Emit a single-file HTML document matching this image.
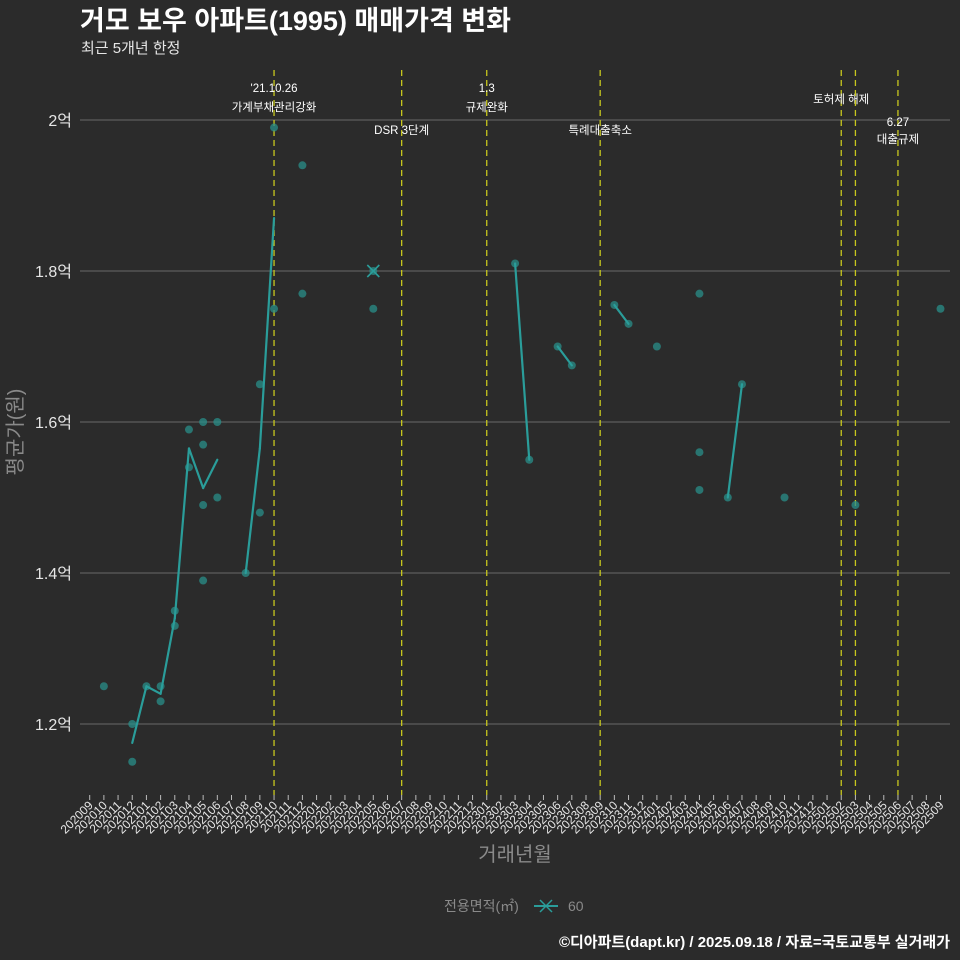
<!DOCTYPE html>
<html><head><meta charset="utf-8">
<style>
html,body{margin:0;padding:0;background:#2b2b2b;overflow:hidden;width:960px;height:960px;}
svg{display:block;}
svg text{font-family:"Liberation Sans","Noto Sans CJK KR",sans-serif;}
</style></head>
<body>
<svg id="chart" width="960" height="960" viewBox="0 0 960 960" xmlns="http://www.w3.org/2000/svg">
<rect x="0" y="0" width="960" height="960" fill="#2b2b2b"/>
<text x="80" y="30" fill="#ffffff" font-size="27" font-weight="bold">거모 보우 아파트(1995) 매매가격 변화</text>
<text x="81" y="53" fill="#e6e6e6" font-size="15">최근 5개년 한정</text>
<g id="grid"></g>
<g id="vlines"></g>
<g id="series"></g>
<g id="yaxis"></g>
<g id="xaxis"></g>
<text transform="translate(22,432) rotate(-90)" text-anchor="middle" fill="#8a8a8a" font-size="20">평균가(원)</text>
<text x="515" y="861" text-anchor="middle" fill="#8a8a8a" font-size="20">거래년월</text>
<g>
<text x="444" y="911" fill="#8a8a8a" font-size="14">전용면적(㎡)</text>
<g>
<line x1="534" y1="906" x2="558" y2="906" stroke="#2a9d9a" stroke-width="2"/>
<path d="M540 900 L552 912 M552 900 L540 912" stroke="#2a9d9a" stroke-width="1.5"/>
<text x="568" y="911" fill="#8a8a8a" font-size="14">60</text>
</g></g>
<text x="950" y="947" text-anchor="end" fill="#ffffff" font-size="15" font-weight="bold">©디아파트(dapt.kr) / 2025.09.18 / 자료=국토교통부 실거래가</text>
</svg>
<script>
const months = [];
for (let y=2020,m=9; !(y===2025&&m===10); ){ months.push(y+String(m).padStart(2,'0')); m++; if(m>12){m=1;y++;} }
const yTicks = [1.2,1.4,1.6,1.8,2.0];
const yTickLabels = ['1.2억','1.4억','1.6억','1.8억','2억'];
const pointMonths = ['202010','202012','202012','202101','202102','202102','202103','202103','202104','202104','202105','202105','202105','202105','202106','202106','202108','202109','202109','202110','202110','202112','202112','202205','202303','202304','202306','202307','202310','202311','202401','202404','202404','202404','202406','202407','202410','202503','202509'];
const pointValues = [1.25,1.2,1.15,1.25,1.25,1.23,1.35,1.33,1.59,1.54,1.6,1.57,1.49,1.39,1.6,1.5,1.4,1.65,1.48,1.99,1.75,1.94,1.77,1.75,1.81,1.55,1.7,1.675,1.755,1.73,1.70,1.77,1.56,1.51,1.5,1.65,1.5,1.49,1.75];
const meanMonths = ['202012','202101','202102','202103','202104','202105','202106','202108','202109','202110','202303','202304','202306','202307','202310','202311','202406','202407'];
const meanValues = [1.175,1.25,1.24,1.34,1.565,1.5125,1.55,1.4,1.565,1.87,1.81,1.55,1.7,1.675,1.755,1.73,1.5,1.65];
const crossMonths = ['202205'];
const crossValues = [1.8];
const eventMonths = ['202110','202207','202301','202309','202502','202503','202506'];
const eventLabels = [["'21.10.26","가계부채관리강화"],["","DSR 3단계"],["1.3","규제완화"],["","특례대출축소"],["토허제 해제"],[],["6.27","대출규제"]];
const eventLabelY = [[92,111],[0,134],[92,111],[0,134],[103],[],[126,143]];

const NS='http://www.w3.org/2000/svg';
const X = m => 89.7 + months.indexOf(m)*14.18;
const Y = v => 724 - (v-1.2)/0.2*151;
function mk(tag, attrs, parent){const e=document.createElementNS(NS,tag);for(const k in attrs)e.setAttribute(k,attrs[k]);parent.appendChild(e);return e;}
const grid=document.getElementById('grid'), yax=document.getElementById('yaxis'), xax=document.getElementById('xaxis');
yTicks.forEach((t,i)=>{
  const l=mk('line',{x1:80,x2:950,y1:Y(t),y2:Y(t),stroke:'#5c5c5c','stroke-width':1.2},grid);
  
  
  const tx=mk('text',{x:72,y:Y(t)+6,'text-anchor':'end',fill:'#e6e6e6','font-size':16},yax);
  tx.textContent=yTickLabels[i];
  
  
});
months.forEach(m=>{
  const x=X(m);
  mk('line',{x1:x,x2:x,y1:795,y2:800,stroke:'#bbbbbb','stroke-width':1},xax);
  const t=mk('text',{transform:`translate(${x+4},${806}) rotate(-45)`,'text-anchor':'end',fill:'#e6e6e6','font-size':12},xax);
  t.textContent=m;
  
  
});
const vl=document.getElementById('vlines');
eventMonths.forEach((m,i)=>{
  const x=X(m);
  const l=mk('line',{x1:x,x2:x,y1:70,y2:795,stroke:'#c8c81e','stroke-width':1.3,'stroke-dasharray':'6,4'},vl);
  
  
  eventLabels[i].forEach((s,j)=>{ if(!s) return;
    const t=mk('text',{x:x,y:eventLabelY[i][j],'text-anchor':'middle',fill:'#ffffff','font-size':11.5},vl);
    t.textContent=s;
    
    
  });
});
const sg=document.getElementById('series');
pointMonths.forEach((m,i)=>{
  const c=mk('circle',{cx:X(m),cy:Y(pointValues[i]),r:4,fill:'#2a8f8a','fill-opacity':0.75},sg);
  
  
});
for(let i=0;i<meanMonths.length-1;i++){
  const a=months.indexOf(meanMonths[i]), b=months.indexOf(meanMonths[i+1]);
  if(b-a!==1) continue;
  const l=mk('line',{x1:X(meanMonths[i]),y1:Y(meanValues[i]),x2:X(meanMonths[i+1]),y2:Y(meanValues[i+1]),stroke:'#2a9d9a','stroke-width':2.2,'stroke-linecap':'round'},sg);
  
  
}
crossMonths.forEach((m,i)=>{
  const x=X(m),y=Y(crossValues[i]);
  mk('circle',{cx:x,cy:y,r:4,fill:'#2a8f8a','fill-opacity':0.75},sg);
  const p=mk('path',{d:`M${x-6} ${y-6}L${x+6} ${y+6}M${x+6} ${y-6}L${x-6} ${y+6}`,stroke:'#2a9d9a','stroke-width':1.6},sg);
  
  
});
</script>
</body></html>
